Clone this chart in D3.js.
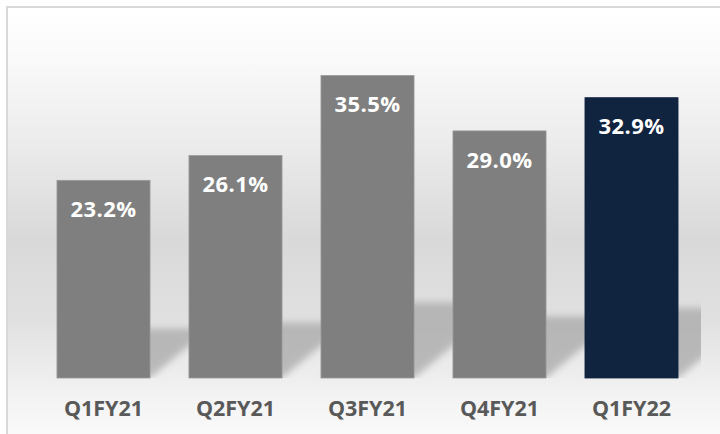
<!DOCTYPE html>
<html>
<head>
<meta charset="utf-8">
<script src="https://cdn.jsdelivr.net/npm/d3@7"></script>
<style>
  html, body { margin: 0; padding: 0; background: #ffffff; }
  svg { display: block; }
</style>
</head>
<body>
<svg id="chart" width="720" height="434"></svg>
<script>
const categories = ["Q1FY21", "Q2FY21", "Q3FY21", "Q4FY21", "Q1FY22"];
const values = [23.2, 26.1, 35.5, 29.0, 32.9];
const highlighted = ["Q1FY22"];

const W = 720, H = 434;
const svg = d3.select("#chart");
const defs = svg.append("defs");

// background gradient (chart area)
const bg = defs.append("linearGradient").attr("id", "bgGrad")
  .attr("x1", 0).attr("y1", 0).attr("x2", 0).attr("y2", 1);
[[0, "#ffffff"], [0.1, "#fbfbfb"], [0.3, "#ececec"], [0.52, "#d9d9d9"], [0.7, "#e0e0e0"], [0.88, "#f3f3f3"], [1, "#fdfdfd"]]
  .forEach(([o, c]) => bg.append("stop").attr("offset", o).attr("stop-color", c));

const blur = defs.append("filter").attr("id", "shadowBlur")
  .attr("x", "-30%").attr("y", "-30%").attr("width", "160%").attr("height", "160%");
blur.append("feGaussianBlur").attr("stdDeviation", 3.5);

const margin = { left: 37.5, right: 22.5, top: 30, bottom: 56 };
const baseline = H - margin.bottom; // 378

defs.append("clipPath").attr("id", "plotClip")
  .append("rect").attr("x", 8).attr("y", 8).attr("width", 693).attr("height", baseline - 8);

svg.append("rect").attr("x", 7).attr("y", 7).attr("width", W + 10).attr("height", H + 10)
  .attr("fill", "url(#bgGrad)").attr("stroke", "#d9d9d9").attr("stroke-width", 2);

const x = d3.scaleBand().domain(categories)
  .range([margin.left, W - margin.right])
  .paddingInner(0.295).paddingOuter(0.1475);

const y = d3.scaleLinear().domain([0, 40]).range([baseline, baseline - 40 * 8.52]);

const data = categories.map((c, i) => ({ cat: c, val: values[i] }));

// perspective shadows
const shadowG = svg.append("g").attr("clip-path", "url(#plotClip)");
shadowG.selectAll("path").data(data).join("path")
  .attr("d", d => {
    const x0 = x(d.cat), x1 = x(d.cat) + x.bandwidth();
    const hs = (baseline - y(d.val)) * 0.25;
    const dx = hs * 1.2;
    return `M${x0},${baseline} L${x1},${baseline} L${x1 + dx},${baseline - hs} L${x0 + dx},${baseline - hs} Z`;
  })
  .attr("fill", "#a8a8a8")
  .attr("opacity", 0.75)
  .attr("filter", "url(#shadowBlur)");

// bars
svg.append("g").selectAll("rect").data(data).join("rect")
  .attr("x", d => x(d.cat))
  .attr("y", d => y(d.val))
  .attr("width", x.bandwidth())
  .attr("height", d => baseline - y(d.val))
  .attr("fill", d => highlighted.includes(d.cat) ? "#10233f" : "#7f7f7f")
  .attr("stroke", d => highlighted.includes(d.cat) ? "#10233f" : "#9a9a9a")
  .attr("stroke-width", 0.8);

const FONT = "'Open Sans', Lato, sans-serif";

// value labels
svg.append("g").selectAll("text").data(data).join("text")
  .attr("x", d => x(d.cat) + x.bandwidth() / 2)
  .attr("y", d => y(d.val) + 36.6)
  .attr("text-anchor", "middle")
  .attr("fill", "#ffffff")
  .attr("font-family", FONT)
  .attr("font-weight", "bold")
  .attr("font-size", "22px")
  .attr("letter-spacing", "0.4px")
  .text(d => d3.format(".1f")(d.val) + "%");

// category axis
const axis = svg.append("g").attr("transform", `translate(0,${baseline})`)
  .call(d3.axisBottom(x).tickSize(0).tickPadding(0));
axis.select(".domain").remove();
axis.selectAll("text")
  .attr("y", 37.5)
  .attr("dy", 0)
  .attr("fill", "#595959")
  .attr("font-family", FONT)
  .attr("font-weight", "bold")
  .attr("font-size", "21.5px");
</script>
</body>
</html>
